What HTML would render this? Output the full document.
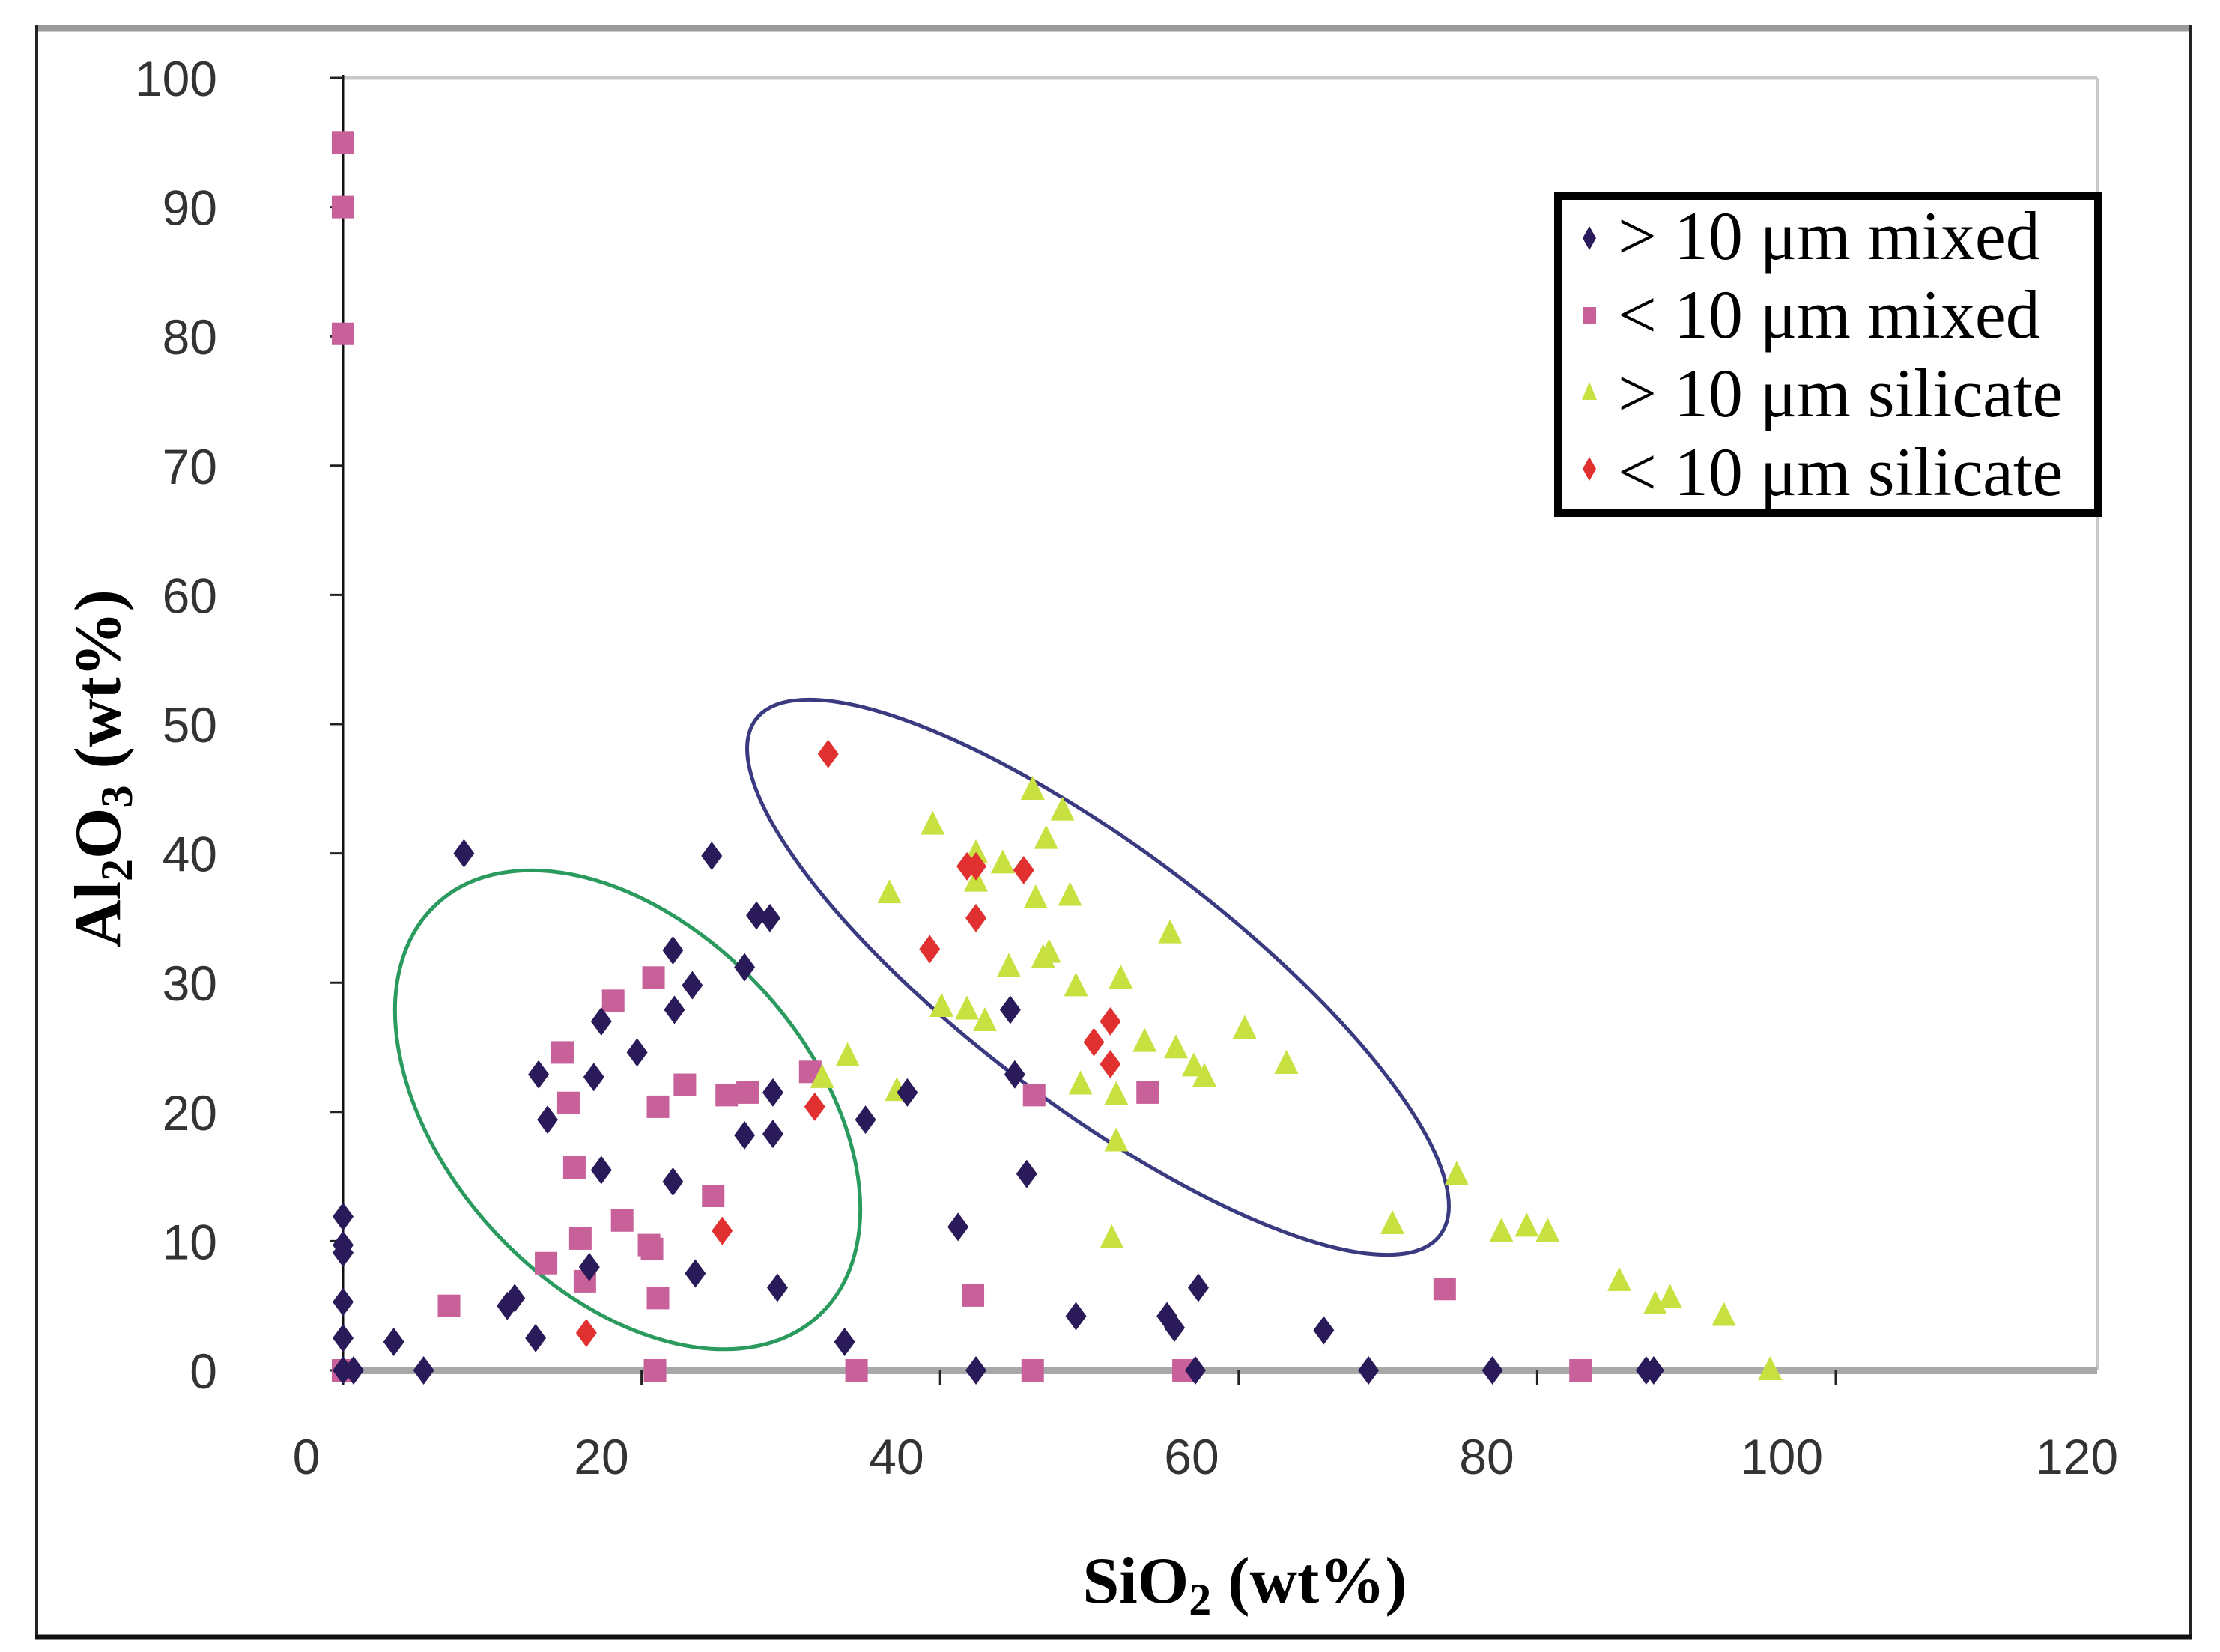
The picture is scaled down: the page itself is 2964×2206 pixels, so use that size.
<!DOCTYPE html>
<html><head><meta charset="utf-8"><style>
html,body{margin:0;padding:0;background:#fff}
svg{display:block}
</style></head><body>
<svg width="2964" height="2206" viewBox="0 0 2964 2206" xmlns="http://www.w3.org/2000/svg">
<rect x="0" y="0" width="2964" height="2206" fill="#fff"/>
<g>
<line x1="47" y1="38" x2="2926" y2="38" stroke="#9a9a9a" stroke-width="9"/>
<line x1="49" y1="34" x2="49" y2="2189" stroke="#222" stroke-width="4"/>
<line x1="2924" y1="34" x2="2924" y2="2189" stroke="#222" stroke-width="4"/>
<line x1="47" y1="2186" x2="2926" y2="2186" stroke="#111" stroke-width="7"/>
</g>
<g id="plot">
<line x1="458" y1="104" x2="2800" y2="104" stroke="#c8c8c8" stroke-width="5"/>
<line x1="2800" y1="104" x2="2800" y2="1830" stroke="#c8c8c8" stroke-width="4"/>
</g>
<g id="ellipses">
<ellipse cx="838" cy="1482" rx="375" ry="241" transform="rotate(47 838 1482)" fill="none" stroke="#2a9a5e" stroke-width="5"/>
<ellipse cx="1466" cy="1305" rx="572" ry="172" transform="rotate(37 1466 1305)" fill="none" stroke="#3a3a80" stroke-width="5"/>
</g>
<g id="axes"></g>
<g id="marks"></g>
<g>
<rect x="2080" y="262" width="721" height="423" fill="#fff" stroke="#000" stroke-width="10"/>
<g font-family="Liberation Serif, serif" font-size="92" fill="#000">
<g><path d="M2122 302 l9 16 l-9 16 l-9 -16z" fill="#2a1a5a"/><text x="2160" y="346">&gt; 10 μm mixed</text></g>
<g><rect x="2113" y="410" width="18" height="22" fill="#c8609a"/><text x="2160" y="451">&lt; 10 μm mixed</text></g>
<g><path d="M2122 510 l10 24 l-20 0z" fill="#c8e040"/><text x="2160" y="556">&gt; 10 μm silicate</text></g>
<g><path d="M2122 610 l9 16 l-9 16 l-9 -16z" fill="#e03030"/><text x="2160" y="661">&lt; 10 μm silicate</text></g>
</g>
</g>
<text x="1662" y="2140" text-anchor="middle" font-family="Liberation Serif, serif" font-weight="bold" font-size="88" fill="#000">SiO<tspan font-size="60" dy="16">2</tspan><tspan dy="-16"> (wt%)</tspan></text>
<text transform="translate(160 1026) rotate(-90)" text-anchor="middle" font-family="Liberation Serif, serif" font-weight="bold" font-size="88" fill="#000">Al<tspan font-size="60" dy="16">2</tspan><tspan dy="-16">O</tspan><tspan font-size="60" dy="16">3</tspan><tspan dy="-16"> (wt%)</tspan></text>
</svg>
<script>
const xTicks=[0,20,40,60,80,100,120];
const yTicks=[0,10,20,30,40,50,60,70,80,90,100];
const mixedGtX=[0,0,0,0,0,0,0.7,3.4,5.4,8.1,11,11.5,12.9,13.1,13.7,16.8,17.3,17.3,16.5,19.7,22.1,22.2,22.1,23.4,23.6,24.7,26.9,26.9,27.7,28.6,28.8,28.8,29.1,33.6,35,37.8,41.2,42.4,44.7,45,45.8,49.1,55.2,55.7,57.3,57.1,65.7,68.7,77,87.3,87.8];
const mixedGtY=[11.9,9.7,9.1,5.3,2.5,0,0,2.2,0,40,5,5.6,2.5,22.9,19.4,22.7,15.5,27,8,24.6,32.5,27.9,14.6,29.8,7.5,39.8,31.2,18.2,35.2,35,21.5,18.3,6.4,2.2,19.4,21.5,11.1,0,27.9,22.9,15.2,4.2,4.2,3.3,6.4,0,3.1,0,0,0,0];
const mixedLtX=[0,0,0,0,7.1,13.6,14.7,15.1,15.5,15.9,16.2,18.1,18.7,20.5,20.7,20.8,21.1,21.1,22.9,24.8,25.7,27.1,20.9,31.3,34.4,42.2,46.3,46.2,53.9,56.3,73.8,82.9];
const mixedLtY=[95,90,80.2,0,5,8.3,24.6,20.7,15.7,10.2,6.9,28.6,11.6,9.7,9.4,30.4,20.4,5.6,22.1,13.5,21.3,21.5,0,23.1,0,5.8,21.3,0,21.5,0,6.3,0];
const silGtX=[33.8,32.1,37.1,36.6,39.5,40.1,41.8,42.4,42.4,43,44.2,44.6,46.2,46.4,46.9,47.3,47.1,48.2,48.7,49.1,49.4,51.5,51.8,51.8,52.1,53.7,55.4,55.8,57,57.7,60.4,63.2,70.3,74.6,77.6,79.3,80.7,85.5,87.9,88.9,92.5,95.6];
const silGtY=[24.3,22.6,21.6,36.9,42.2,28.1,27.9,40,37.8,27,39.2,31.2,44.9,36.5,31.9,32.3,41.1,43.3,36.7,29.7,22.1,10.2,17.7,21.3,30.3,25.4,33.8,24.9,23.5,22.7,26.4,23.7,11.3,15.1,10.7,11.1,10.7,6.9,5.1,5.6,4.2,0];
const silLtX=[32.5,31.6,16.3,25.4,39.3,41.8,42.4,42.4,45.6,50.3,51.4,51.4];
const silLtY=[47.7,20.4,2.9,10.8,32.6,39,39,35,38.7,25.4,27,23.7];

const NS='http://www.w3.org/2000/svg';
function X(v){return 458+v*19.93;}
function Y(v){return 1830-v*17.26;}
function LX(v){return 409+v*19.7;}
function mk(tag,attrs,parent){const e=document.createElementNS(NS,tag);for(const k in attrs)e.setAttribute(k,attrs[k]);parent.appendChild(e);return e;}
const axes=document.getElementById('axes');
let xl=mk('line',{x1:450,y1:1830,x2:2800,y2:1830,stroke:'#a8a8a8','stroke-width':10},axes);


let yl=mk('line',{x1:458,y1:100,x2:458,y2:1850,stroke:'#111','stroke-width':3},axes);


xTicks.forEach(t=>{
  if(t>0&&t<120){const tk=mk('line',{x1:X(t),y1:1830,x2:X(t),y2:1850,stroke:'#222','stroke-width':3},axes);
  
  }
  const tx=mk('text',{x:LX(t),y:1968,'text-anchor':'middle','font-family':'Liberation Sans, sans-serif','font-size':66,fill:'#333'},axes);
  tx.textContent=t;
  
  
});
yTicks.forEach(t=>{
  const tk=mk('line',{x1:440,y1:Y(t),x2:458,y2:Y(t),stroke:'#222','stroke-width':3},axes);
  
  
  const tx=mk('text',{x:290,y:Y(t)+24,'text-anchor':'end','font-family':'Liberation Sans, sans-serif','font-size':66,fill:'#333'},axes);
  tx.textContent=t;
  
  
});
const marks=document.getElementById('marks');
function diamond(x,y,c){return mk('path',{d:`M${x} ${y-19} L${x+14} ${y} L${x} ${y+19} L${x-14} ${y}Z`,fill:c},marks);}
function square(x,y,c){return mk('rect',{x:x-15,y:y-15,width:30,height:30,fill:c},marks);}
function tri(x,y,c){return mk('path',{d:`M${x} ${y-19} L${x+16} ${y+13} L${x-16} ${y+13}Z`,fill:c},marks);}
mixedLtX.forEach((v,i)=>{const e=square(X(v),Y(mixedLtY[i]),'#c8609a');

});
silGtX.forEach((v,i)=>{const e=tri(X(v),Y(silGtY[i]),'#c8e040');

});
mixedGtX.forEach((v,i)=>{const e=diamond(X(v),Y(mixedGtY[i]),'#2a1a5a');

});
silLtX.forEach((v,i)=>{const e=diamond(X(v),Y(silLtY[i]),'#e03030');

});
</script>
</body></html>
